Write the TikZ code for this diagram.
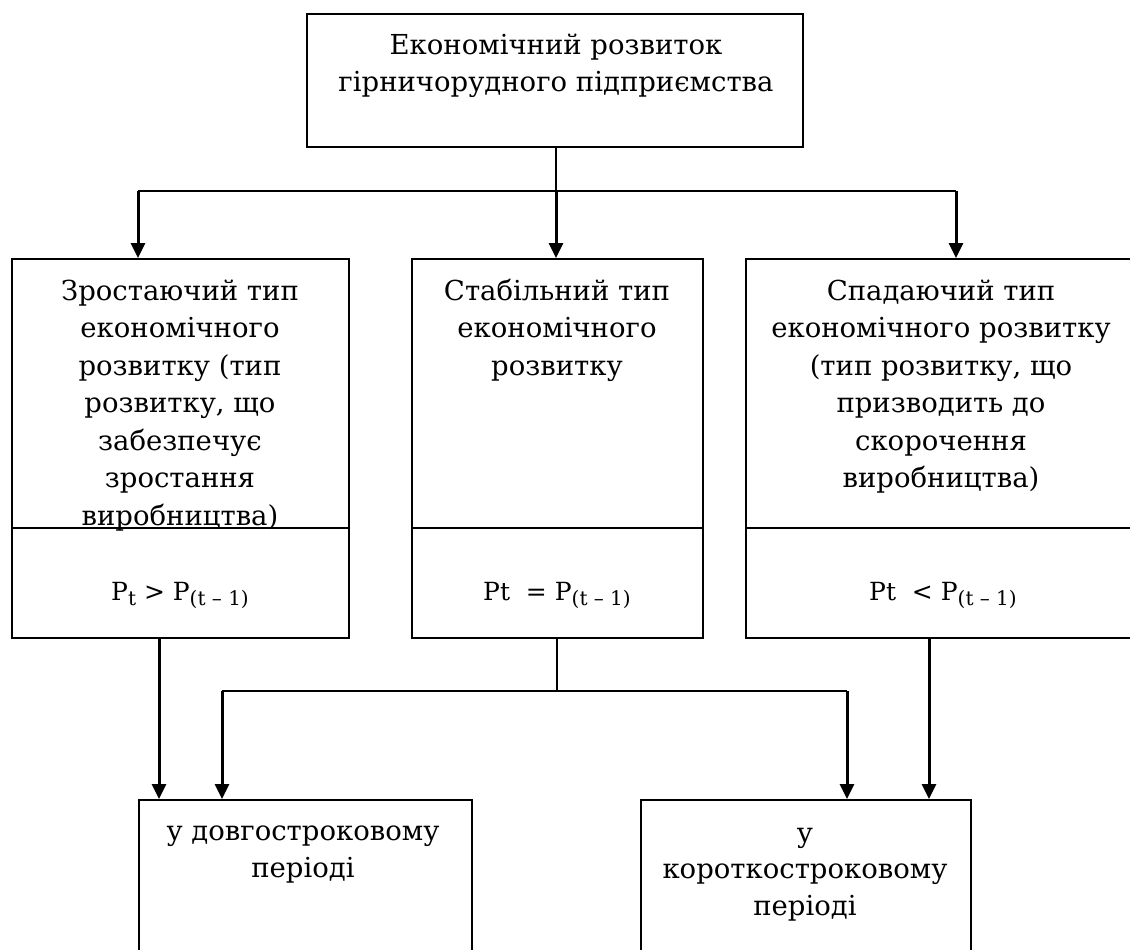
\documentclass[tikz,border=0pt]{standalone}
\usepackage{fontspec}
\setmainfont{DejaVu Serif}
\usetikzlibrary{arrows.meta}
\newcommand{\lowsub}[1]{\raisebox{-0.2em}{\fontsize{20}{20}\selectfont #1}}
\tikzset{
  box/.style={draw, line width=2pt, inner sep=0pt, anchor=north west},
  lbl/.style={align=center, anchor=base, inner sep=0pt, font=\fontsize{27.5}{37.5}\selectfont},
  fml/.style={anchor=base, inner sep=0pt, font=\fontsize{25}{30}\selectfont},
  conn/.style={line width=2pt},
  arr/.style={line width=3pt, -{Triangle[width=14pt,length=15pt]}}
}
\begin{document}
\begin{tikzpicture}[x=1pt,y=-1pt]
\useasboundingbox (0,0) rectangle (1130,950);
\clip (0,0) rectangle (1130,950);
\fill[white] (0,0) rectangle (1130,950);
% boxes
\node[box, minimum width=496pt, minimum height=133pt] (top) at (306,13) {};
\node[box, minimum width=337pt, minimum height=379pt] (left) at (11,258) {};
\node[box, minimum width=291pt, minimum height=379pt] (mid) at (411,258) {};
\node[box, minimum width=389pt, minimum height=379pt] (right) at (745,258) {};
\node[box, minimum width=333pt, minimum height=260pt] (bl) at (138,799) {};
\node[box, minimum width=330pt, minimum height=260pt] (br) at (640,799) {};
% dividers
\draw[conn] ([yshift=-270pt]left.north west) -- ([yshift=-270pt]left.north east);
\draw[conn] ([yshift=-270pt]mid.north west) -- ([yshift=-270pt]mid.north east);
\draw[conn] ([yshift=-270pt]right.north west) -- ([yshift=-270pt]right.north east);
% texts (anchor base = baseline of the last line)
\node[lbl, font=\fontsize{27.5}{37}\selectfont] (ttop) at (556,92) {Економічний розвиток\\гірничорудного підприємства};
\node[lbl] (tleft) at (180,525) {Зростаючий тип\\економічного\\розвитку (тип\\розвитку, що\\забезпечує\\зростання\\виробництва)};
\node[lbl] (tmid) at (557,375) {Стабільний тип\\економічного\\розвитку};
\node[lbl] (tright) at (941,487.5) {Спадаючий тип\\економічного розвитку\\(тип розвитку, що\\призводить до\\скорочення\\виробництва)};
\node[fml] (fleft) at (180,600) {P\lowsub{t} > P\lowsub{(t – 1)}};
\node[fml] (fmid) at (557,600) {Pt\ \ = P\lowsub{(t – 1)}};
\node[fml] (fright) at (943,600) {Pt\ \ < P\lowsub{(t – 1)}};
\node[lbl, font=\fontsize{27.5}{37}\selectfont] (tbl) at (303,877) {у довгостроковому\\періоді};
\node[lbl, font=\fontsize{27.5}{36.5}\selectfont] (tbr) at (805,915) {у\\короткостроковому\\періоді};
% upper connectors
\coordinate (j0) at (556,191);
\coordinate (jl) at (138,191);
\coordinate (jr) at (956,191);
\draw[conn] (top.south -| j0) -- (j0);
\draw[conn] (jl) -- (jr);
\draw[arr] (jl) -- (jl |- left.north);
\draw[arr] (j0) -- (j0 |- mid.north);
\draw[arr] (jr) -- (jr |- right.north);
% lower connectors
\coordinate (la) at (159,700);
\coordinate (m0) at (557,691);
\coordinate (ml) at (222,691);
\coordinate (mr) at (847,691);
\coordinate (ra) at (929,700);
\draw[arr] (left.south -| la) -- (bl.north -| la);
\draw[conn] (mid.south -| m0) -- (m0);
\draw[conn] (ml) -- (mr);
\draw[arr] (ml) -- (ml |- bl.north);
\draw[arr] (mr) -- (mr |- br.north);
\draw[arr] (right.south -| ra) -- (ra |- br.north);
\end{tikzpicture}
\end{document}
